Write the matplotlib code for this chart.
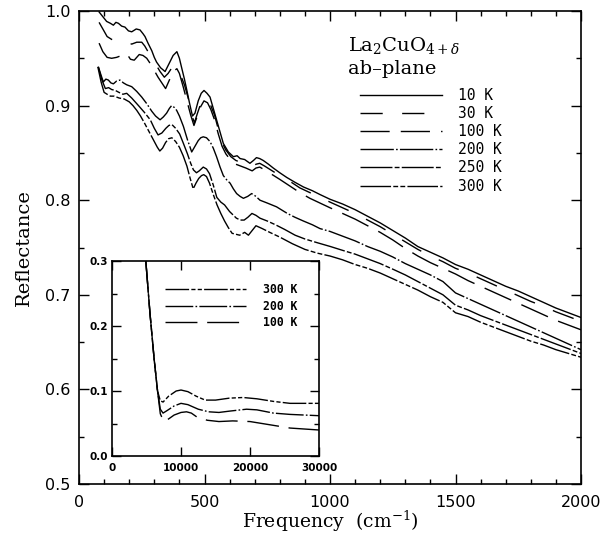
import matplotlib
matplotlib.use("Agg")
import matplotlib.pyplot as plt
from matplotlib.ticker import MultipleLocator
import numpy as np

plt.rcParams['lines.scale_dashes'] = False
plt.rcParams['mathtext.fontset'] = 'dejavuserif'

# ---------------- main panel data (frequency cm^-1, reflectance) -------------
f10 = [80, 95, 110, 125, 137, 147, 157, 170, 183, 197, 210, 228, 243, 255, 263, 275, 290, 300, 309, 325,
       343, 360, 375, 390, 400, 409, 420, 429, 440, 452, 462, 475, 487, 498, 510, 522, 535, 548, 562, 575,
       595, 615, 630, 642, 660, 681, 695, 707, 720, 734, 755, 774, 800, 828, 860, 894, 930, 960, 1000, 1050,
       1100, 1150, 1200, 1250, 1300, 1350, 1400, 1450, 1500, 1550, 1600, 1650, 1700, 1750, 1800, 1850, 1900,
       1950, 2000]
r10 = [0.999, 0.994, 0.989, 0.987, 0.985, 0.988, 0.987, 0.984, 0.983, 0.979, 0.978, 0.981, 0.980, 0.976,
       0.973, 0.966, 0.958, 0.951, 0.946, 0.940, 0.936, 0.945, 0.953, 0.957, 0.950, 0.940, 0.928, 0.917,
       0.903, 0.889, 0.892, 0.905, 0.913, 0.916, 0.913, 0.909, 0.897, 0.885, 0.872, 0.860, 0.851, 0.846,
       0.847, 0.844, 0.843, 0.839, 0.842, 0.845, 0.844, 0.842, 0.838, 0.834, 0.829, 0.824, 0.819, 0.814,
       0.810, 0.806, 0.801, 0.796, 0.790, 0.783, 0.776, 0.768, 0.760, 0.751, 0.745, 0.739, 0.732, 0.727,
       0.721, 0.715, 0.709, 0.704, 0.698, 0.692, 0.686, 0.681, 0.676]

f30 = [80, 95, 112, 130, 150, 170, 190, 210, 230, 250, 262, 275, 290, 305, 323, 340, 355, 370, 385, 395,
       405, 420, 435, 450, 460, 472, 485, 498, 512, 525, 540, 555, 570, 585, 605, 625, 645, 665, 690, 705,
       720, 740, 770, 800, 840, 880, 920, 960, 1000, 1050, 1100, 1150, 1200, 1250, 1300, 1350, 1400, 1450,
       1500, 1550, 1600, 1650, 1700, 1750, 1800, 1850, 1900, 1950, 2000]
r30 = [0.988, 0.981, 0.973, 0.970, 0.968, 0.969, 0.967, 0.965, 0.967, 0.967, 0.963, 0.957, 0.950, 0.944,
       0.936, 0.930, 0.934, 0.940, 0.942, 0.938, 0.932, 0.922, 0.908, 0.889, 0.882, 0.892, 0.902, 0.908,
       0.906, 0.900, 0.890, 0.875, 0.861, 0.853, 0.846, 0.842, 0.840, 0.838, 0.835, 0.838, 0.839, 0.836,
       0.831, 0.826, 0.820, 0.813, 0.808, 0.803, 0.798, 0.792, 0.786, 0.779, 0.772, 0.764, 0.756, 0.748,
       0.741, 0.735, 0.728, 0.723, 0.717, 0.711, 0.705, 0.699, 0.693, 0.688, 0.682, 0.677, 0.672]

f100 = [80, 95, 112, 130, 150, 170, 190, 205, 220, 240, 255, 270, 285, 300, 315, 330, 345, 360, 375, 390,
        400, 415, 430, 445, 458, 470, 485, 498, 512, 525, 540, 555, 570, 585, 605, 625, 645, 665, 690, 705,
        720, 740, 770, 800, 840, 880, 920, 960, 1000, 1050, 1100, 1150, 1200, 1250, 1300, 1350, 1400, 1450,
        1500, 1550, 1600, 1650, 1700, 1750, 1800, 1850, 1900, 1950, 2000]
r100 = [0.966, 0.957, 0.951, 0.950, 0.951, 0.953, 0.955, 0.949, 0.948, 0.954, 0.953, 0.950, 0.944, 0.937,
        0.930, 0.924, 0.918, 0.927, 0.936, 0.939, 0.934, 0.920, 0.905, 0.890, 0.879, 0.888, 0.899, 0.905,
        0.903, 0.896, 0.885, 0.870, 0.857, 0.849, 0.842, 0.838, 0.836, 0.834, 0.831, 0.834, 0.835, 0.832,
        0.827, 0.822, 0.815, 0.808, 0.802, 0.797, 0.792, 0.786, 0.780, 0.773, 0.766, 0.758, 0.749, 0.741,
        0.734, 0.728, 0.722, 0.715, 0.709, 0.703, 0.697, 0.691, 0.685, 0.679, 0.673, 0.668, 0.663]

f200 = [77, 88, 97, 107, 117, 127, 137, 150, 163, 177, 190, 210, 230, 250, 270, 290, 305, 323, 336, 349,
        360, 369, 380, 389, 400, 416, 432, 449, 462, 475, 485, 495, 508, 522, 535, 548, 562, 575, 590, 602,
        615, 628, 642, 655, 672, 688, 705, 721, 750, 787, 830, 860, 894, 930, 960, 1000, 1050, 1100, 1150,
        1200, 1250, 1300, 1350, 1400, 1450, 1500, 1550, 1600, 1650, 1700, 1750, 1800, 1850, 1900, 1950, 2000]
r200 = [0.941, 0.932, 0.925, 0.928, 0.927, 0.924, 0.923, 0.926, 0.927, 0.924, 0.922, 0.920, 0.915, 0.909,
        0.902, 0.894, 0.889, 0.885, 0.888, 0.892, 0.897, 0.900, 0.898, 0.895, 0.889, 0.878, 0.864, 0.851,
        0.857, 0.863, 0.866, 0.867, 0.866, 0.862, 0.855, 0.846, 0.835, 0.826, 0.821, 0.818, 0.812, 0.807,
        0.804, 0.802, 0.804, 0.807, 0.804, 0.800, 0.797, 0.793, 0.786, 0.782, 0.778, 0.774, 0.770, 0.767,
        0.762, 0.757, 0.751, 0.746, 0.740, 0.733, 0.727, 0.721, 0.714, 0.702, 0.696, 0.690, 0.684, 0.678,
        0.672, 0.666, 0.660, 0.654, 0.648, 0.642]

f250 = [77, 90, 105, 118, 130, 145, 159, 175, 190, 210, 237, 260, 284, 300, 315, 330, 346, 358, 370, 385,
        401, 416, 432, 445, 456, 468, 479, 495, 508, 520, 535, 549, 565, 580, 600, 627, 643, 658, 673, 689,
        705, 721, 750, 783, 820, 861, 900, 950, 1002, 1050, 1100, 1150, 1200, 1251, 1300, 1350, 1400, 1450,
        1500, 1550, 1600, 1650, 1700, 1750, 1800, 1850, 1900, 1950, 2000]
r250 = [0.941, 0.928, 0.918, 0.919, 0.917, 0.916, 0.914, 0.912, 0.913, 0.908, 0.900, 0.893, 0.885, 0.876,
        0.869, 0.871, 0.876, 0.879, 0.880, 0.876, 0.870, 0.860, 0.849, 0.839, 0.832, 0.829, 0.831, 0.835,
        0.833, 0.828, 0.816, 0.803, 0.798, 0.795, 0.788, 0.781, 0.779, 0.779, 0.782, 0.786, 0.784, 0.781,
        0.778, 0.774, 0.769, 0.763, 0.759, 0.755, 0.751, 0.747, 0.743, 0.738, 0.733, 0.727, 0.721, 0.714,
        0.707, 0.700, 0.689, 0.684, 0.678, 0.673, 0.668, 0.663, 0.658, 0.653, 0.648, 0.643, 0.638]

f300 = [75, 88, 100, 112, 125, 140, 160, 180, 200, 215, 230, 245, 260, 280, 300, 312, 322, 333, 345, 357,
        370, 385, 400, 415, 430, 443, 455, 466, 477, 488, 497, 508, 520, 535, 550, 565, 580, 595, 610, 625,
        640, 660, 675, 690, 705, 730, 760, 800, 850, 900, 950, 1000, 1050, 1100, 1150, 1200, 1250, 1300,
        1350, 1400, 1450, 1500, 1550, 1600, 1650, 1700, 1750, 1800, 1850, 1900, 1950, 2000]
r300 = [0.941, 0.925, 0.914, 0.912, 0.910, 0.910, 0.908, 0.907, 0.904, 0.900, 0.895, 0.889, 0.882, 0.872,
        0.862, 0.856, 0.852, 0.855, 0.861, 0.865, 0.866, 0.862, 0.856, 0.847, 0.836, 0.823, 0.812, 0.818,
        0.823, 0.826, 0.827, 0.825, 0.818, 0.806, 0.795, 0.786, 0.778, 0.771, 0.765, 0.764, 0.763, 0.766,
        0.763, 0.768, 0.773, 0.770, 0.766, 0.761, 0.754, 0.748, 0.744, 0.741, 0.737, 0.732, 0.728, 0.723,
        0.717, 0.711, 0.705, 0.698, 0.692, 0.681, 0.677, 0.671, 0.666, 0.661, 0.656, 0.651, 0.647, 0.642,
        0.638, 0.634]

main_labels = ["10 K", "30 K", "100 K", "200 K", "250 K", "300 K"]

# ---------------- inset data (frequency cm^-1, reflectance) ------------------
fi300 = [4900, 5500, 6100, 6600, 7000, 7400, 8200, 9300, 10000, 11000, 12200, 13500, 15000, 17000, 19000,
         21000, 23400, 25800, 30000]
ri300 = [0.30, 0.22, 0.15, 0.10, 0.085, 0.083, 0.092, 0.100, 0.1015, 0.099, 0.092, 0.086, 0.086, 0.089,
         0.090, 0.088, 0.084, 0.081, 0.081]
fi200 = [4900, 5500, 6100, 6600, 7000, 7400, 8000, 9000, 10000, 11000, 12500, 14000, 15500, 17000, 19500,
         21000, 23400, 25800, 30000]
ri200 = [0.30, 0.22, 0.15, 0.10, 0.072, 0.066, 0.070, 0.077, 0.081, 0.079, 0.072, 0.068, 0.067, 0.069,
         0.072, 0.071, 0.066, 0.064, 0.062]
fi100 = [4900, 5500, 6100, 6600, 7000, 7500, 8200, 9000, 10000, 10800, 11500, 12300, 13800, 15500, 17500,
         20000, 22900, 25800, 30000]
ri100 = [0.30, 0.22, 0.15, 0.10, 0.065, 0.053, 0.057, 0.063, 0.067, 0.068, 0.066, 0.060, 0.055, 0.053,
         0.054, 0.053, 0.048, 0.043, 0.040]
inset_labels = ["300 K", "200 K", "100 K"]

# ---------------- styles ------------------------------------------------------
LW = 1.0
sty = {
    "10 K": dict(linestyle='-'),
    "30 K": dict(dashes=(16, 14)),
    "100 K": dict(dashes=(21, 8)),
    "200 K": dict(dashes=(24, 1.6, 1.2, 1.6)),
    "250 K": dict(dashes=(23, 1.6, 3.5, 1.6)),
    "300 K": dict(dashes=(22, 1.6, 3.5, 1.6, 3.5, 1.6)),
}
isty = {
    "300 K": dict(dashes=(17, 1.6, 3, 1.6, 3, 1.6)),
    "200 K": dict(dashes=(20, 1.6, 1.2, 1.6)),
    "100 K": dict(dashes=(23, 7)),
}

fig = plt.figure(figsize=(6.15, 5.37), dpi=100)
ax = fig.add_axes([79/615, 53/537, 502/615, 473/537])

series = [(f10, r10), (f30, r30), (f100, r100), (f200, r200), (f250, r250), (f300, r300)]
for (f, r), lab in zip(series, main_labels):
    ax.plot(f, r, color='black', lw=LW, label=lab, **sty[lab])

ax.set_xlim(0, 2000)
ax.set_ylim(0.5, 1.0)
ax.xaxis.set_major_locator(MultipleLocator(500))
ax.xaxis.set_minor_locator(MultipleLocator(100))
ax.yaxis.set_major_locator(MultipleLocator(0.1))
ax.yaxis.set_minor_locator(MultipleLocator(0.05))
ax.tick_params(which='both', direction='in', top=True, right=True, width=1.0)
ax.tick_params(which='major', length=7)
ax.tick_params(which='minor', length=3.5)
ax.tick_params(axis='x', which='major', pad=8)
ax.tick_params(axis='y', which='major', pad=6)
for sp in ax.spines.values():
    sp.set_linewidth(1.2)
ax.xaxis.set_major_formatter(matplotlib.ticker.FuncFormatter(lambda v, p: f"{v:.0f}"))
ax.yaxis.set_major_formatter(matplotlib.ticker.FuncFormatter(lambda v, p: f"{v:.1f}"))
for t in ax.get_xticklabels() + ax.get_yticklabels():
    t.set_fontfamily('DejaVu Sans')
    t.set_fontsize(11.5)

ax.set_xlabel(r'Frequency  (cm$^{-1}$)', fontfamily='DejaVu Serif', fontsize=13.5, labelpad=-1)
ax.set_ylabel('Reflectance', fontfamily='DejaVu Serif', fontsize=14, labelpad=9)

ax.text(0.536, 0.915, r'La$_2$CuO$_{4+\delta}$', transform=ax.transAxes,
        fontfamily='DejaVu Serif', fontsize=14, ha='left', va='baseline')
ax.text(0.536, 0.866, 'ab\u2013plane', transform=ax.transAxes,
        fontfamily='DejaVu Serif', fontsize=14, ha='left', va='baseline')

leg = ax.legend(loc='upper left', bbox_to_anchor=(0.56, 0.838), frameon=False,
                handlelength=5.6, handletextpad=1.1, labelspacing=0.22, borderpad=0,
                borderaxespad=0, prop={'family': 'DejaVu Sans Mono', 'size': 10.5})

# ---------------- inset -------------------------------------------------------
axi = fig.add_axes([112/615, 81/537, 207/615, 195/537])
axi.set_facecolor('white')
iseries = [(fi300, ri300), (fi200, ri200), (fi100, ri100)]
for (f, r), lab in zip(iseries, inset_labels):
    axi.plot(f, r, color='black', lw=LW, label=lab, **isty[lab])
axi.set_xlim(0, 30000)
axi.set_ylim(0, 0.3)
axi.xaxis.set_major_locator(MultipleLocator(10000))
axi.yaxis.set_major_locator(MultipleLocator(0.1))
axi.yaxis.set_minor_locator(MultipleLocator(0.05))
axi.tick_params(which='both', direction='in', top=True, right=True, width=1.0)
axi.tick_params(which='major', length=6.5)
axi.tick_params(which='minor', length=3.5)
axi.tick_params(axis='x', pad=5)
axi.tick_params(axis='y', pad=3)
for sp in axi.spines.values():
    sp.set_linewidth(1.2)
axi.xaxis.set_major_formatter(matplotlib.ticker.FuncFormatter(lambda v, p: f"{v:.0f}"))
axi.yaxis.set_major_formatter(matplotlib.ticker.FuncFormatter(lambda v, p: f"{v:.1f}"))
for t in axi.get_xticklabels() + axi.get_yticklabels():
    t.set_fontfamily('DejaVu Sans')
    t.set_fontsize(7.5)
    t.set_fontweight('bold')

axi.legend(loc='upper left', bbox_to_anchor=(0.256, 0.885), frameon=False,
           handlelength=7.0, handletextpad=1.5, labelspacing=0.3, borderpad=0,
           borderaxespad=0, prop={'family': 'DejaVu Sans Mono', 'size': 8.3, 'weight': 'bold'})

fig.savefig('out.png', dpi=100)
